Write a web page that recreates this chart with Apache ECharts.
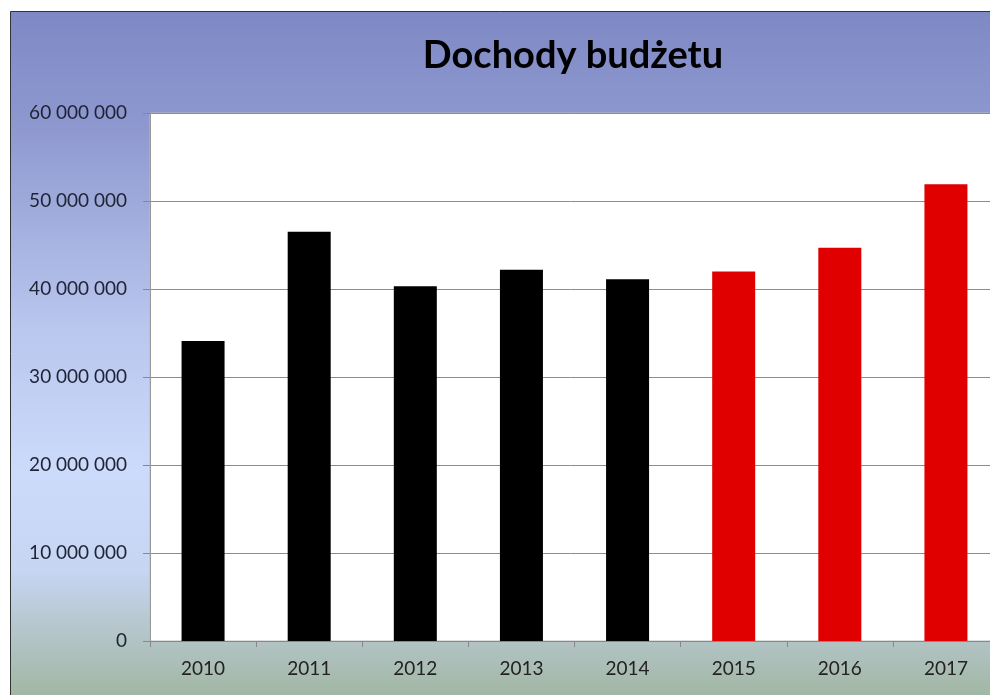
<!DOCTYPE html>
<html>
<head>
<meta charset="utf-8">
<title>Dochody budżetu</title>
<script src="https://cdn.jsdelivr.net/npm/echarts@6/dist/echarts.min.js"></script>
<style>
  html, body { margin: 0; padding: 0; background: #fff; }
  #chart { width: 990px; height: 695px; }
</style>
</head>
<body>
<div id="chart"></div>
<script>
// dane
const lata = ['2010', '2011', '2012', '2013', '2014', '2015', '2016', '2017'];
const dochody = [34100000, 46500000, 40300000, 42200000, 41100000, 42000000, 44700000, 51900000];
const plan = [false, false, false, false, false, true, true, true]; // lata planowane (na czerwono)
const yTicks = [0, 10000000, 20000000, 30000000, 40000000, 50000000, 60000000];

const fmt = v => String(v).replace(/\B(?=(\d{3})+(?!\d))/g, ' ');

document.addEventListener('DOMContentLoaded', () => {
  const myChart = echarts.init(document.getElementById('chart'));
  const option = {
    animation: false,
    textStyle: { fontFamily: 'Lato' },
    graphic: [
      {
        type: 'rect',
        z: -10,
        shape: { x: 10.5, y: 11.5, width: 1000, height: 700 },
        style: {
          fill: {
            type: 'linear', x: 0, y: 0, x2: 0, y2: 1,
            colorStops: [
              { offset: 0, color: '#7e88c4' },
              { offset: 0.17, color: '#8f99d0' },
              { offset: 0.45, color: '#b9c6ee' },
              { offset: 0.66, color: '#ccdbfb' },
              { offset: 0.8, color: '#c6d5f1' },
              { offset: 0.88, color: '#b6c6cc' },
              { offset: 1, color: '#9db39a' }
            ]
          },
          stroke: '#333',
          lineWidth: 1
        }
      }
    ],
    title: {
      text: 'Dochody budżetu',
      left: 568,
      top: 32,
      textAlign: 'center',
      textStyle: { fontFamily: 'Lato', fontWeight: 'bold', fontSize: 38, color: '#000' }
    },
    grid: {
      left: 150, top: 113, width: 849, bottom: 54,
      outerBoundsMode: 'none',
      containLabel: false,
      show: true, backgroundColor: '#fff', borderColor: '#bbb', borderWidth: 1
    },
    xAxis: {
      type: 'category',
      data: lata,
      axisLine: { lineStyle: { color: '#888' } },
      axisTick: { show: true, length: 6, lineStyle: { color: '#888' } },
      axisLabel: { fontSize: 19, color: '#222', margin: 18 }
    },
    yAxis: {
      type: 'value',
      min: yTicks[0],
      max: yTicks[yTicks.length - 1],
      interval: yTicks[1] - yTicks[0],
      axisLine: { show: true, lineStyle: { color: '#999' } },
      axisTick: { show: true, length: 7, lineStyle: { color: '#888' } },
      splitLine: { lineStyle: { color: '#8c8c8c' } },
      axisLabel: { fontSize: 19, color: '#1f2333', margin: 23, formatter: v => fmt(v) }
    },
    series: [
      {
        type: 'bar',
        data: dochody,
        barWidth: 43,
        itemStyle: {
          color: p => plan[p.dataIndex] ? '#e10000' : '#000'
        }
      }
    ]
  };
  myChart.setOption(option);
});
</script>
</body>
</html>
